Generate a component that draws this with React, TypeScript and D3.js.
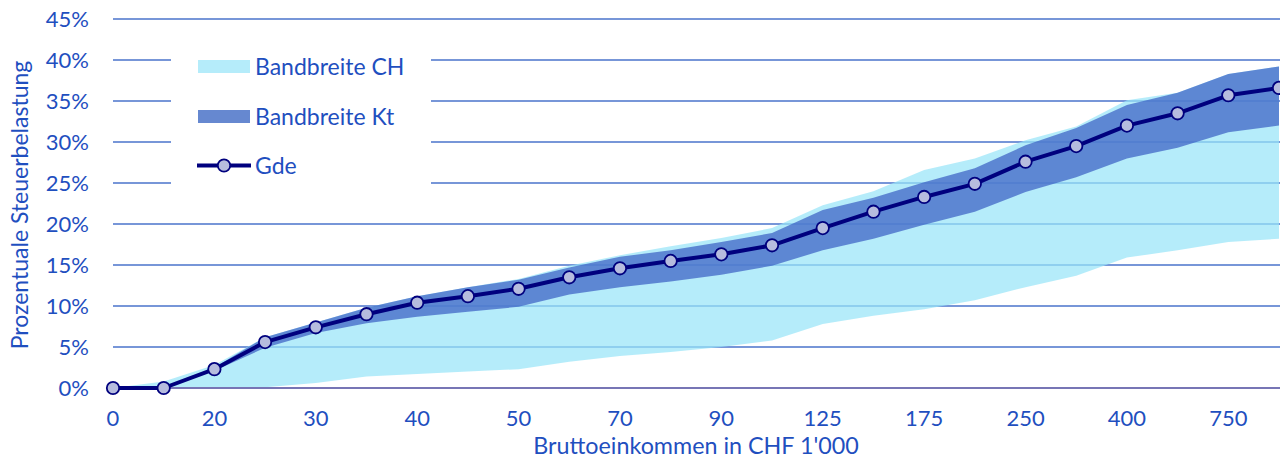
import { useEffect, useRef } from 'react';
import * as d3 from 'd3';

// Bruttoeinkommen in CHF 1'000
const incomes = ['0', '10', '20', '25', '30', '35', '40', '45', '50', '60', '70', '80', '90', '100', '125', '150', '175', '200', '250', '300', '400', '500', '750', '1000'];
const tickLabels = ['0', '20', '30', '40', '50', '70', '90', '125', '175', '250', '400', '750'];
const yTicks = [0, 5, 10, 15, 20, 25, 30, 35, 40, 45];

// Prozentuale Steuerbelastung in %
const gde = [0, 0, 2.3, 5.6, 7.4, 9.0, 10.4, 11.2, 12.1, 13.5, 14.6, 15.5, 16.3, 17.4, 19.5, 21.5, 23.3, 24.9, 27.6, 29.5, 32.0, 33.5, 35.7, 36.6];
const chLow = [0, 0, 0.1, 0.1, 0.6, 1.4, 1.7, 2.0, 2.3, 3.2, 3.9, 4.4, 5.0, 5.8, 7.8, 8.8, 9.6, 10.7, 12.3, 13.7, 15.9, 16.8, 17.8, 18.2];
const chHigh = [0, 0.8, 2.8, 6.2, 8.0, 9.8, 11.2, 12.3, 13.3, 14.9, 16.2, 17.3, 18.3, 19.5, 22.3, 24.0, 26.6, 28.0, 30.2, 31.9, 35.1, 36.0, 38.3, 39.2];
const ktLow = [0, 0, 2.1, 4.9, 6.7, 7.9, 8.7, 9.3, 9.9, 11.4, 12.3, 13.0, 13.8, 14.9, 16.8, 18.2, 19.9, 21.5, 23.9, 25.7, 28.0, 29.3, 31.2, 32.0];
const ktHigh = [0, 0, 2.5, 6.2, 8.0, 9.8, 11.2, 12.3, 13.2, 14.7, 16.0, 16.8, 17.8, 18.9, 21.7, 23.2, 25.1, 26.8, 29.6, 31.7, 34.5, 36.0, 38.3, 39.2];

const FONT = 'Lato, "Open Sans", sans-serif';
const TEXT = '#1f4fbf';

const App = () => {
  const svgRef = useRef<SVGSVGElement>(null);

  useEffect(() => {
    const width = 1280;
    const height = 462;

    const svg = d3.select(svgRef.current);
    svg.selectAll('*').remove();
    svg.attr('width', width).attr('height', height);

    const x = d3.scalePoint<string>().domain(incomes).range([113, 1279]);
    const y = d3.scaleLinear().domain([0, 45]).range([388, 19]);

    // gridlines
    svg.append('g')
      .selectAll('line')
      .data(yTicks.filter(d => d > 0))
      .join('line')
      .attr('x1', 113)
      .attr('x2', width)
      .attr('y1', d => y(d))
      .attr('y2', d => y(d))
      .attr('stroke', '#4a73cb')
      .attr('stroke-width', 1.6);

    // legend background cuts the gridlines
    svg.append('rect')
      .attr('x', 171).attr('y', 40).attr('width', 260).attr('height', 165)
      .attr('fill', '#fff');

    const band = (lo: number[], hi: number[]) => d3.area<string>()
      .x(d => x(d)!)
      .y0((d, i) => y(lo[i]))
      .y1((d, i) => y(hi[i]));

    svg.append('path')
      .datum(incomes)
      .attr('d', band(chLow, chHigh))
      .attr('fill', 'rgb(152,229,248)')
      .attr('fill-opacity', 0.72);

    svg.append('path')
      .datum(incomes)
      .attr('d', band(ktLow, ktHigh))
      .attr('fill', 'rgb(60,95,195)')
      .attr('fill-opacity', 0.72);

    // zero line
    svg.append('line')
      .attr('x1', 113).attr('x2', width)
      .attr('y1', y(0)).attr('y2', y(0))
      .attr('stroke', '#7775b5')
      .attr('stroke-width', 2);

    // Gde line
    const line = d3.line<string>()
      .x(d => x(d)!)
      .y((d, i) => y(gde[i]));

    svg.append('path')
      .datum(incomes)
      .attr('d', line)
      .attr('fill', 'none')
      .attr('stroke', '#00007e')
      .attr('stroke-width', 4)
      .attr('stroke-linejoin', 'round');

    svg.append('g')
      .selectAll('circle')
      .data(incomes)
      .join('circle')
      .attr('cx', d => x(d)!)
      .attr('cy', (d, i) => y(gde[i]))
      .attr('r', 6.2)
      .attr('fill', '#b6bcde')
      .attr('stroke', '#00007e')
      .attr('stroke-width', 1.8);

    // y tick labels
    svg.append('g')
      .selectAll('text')
      .data(yTicks)
      .join('text')
      .attr('x', 89)
      .attr('y', d => y(d))
      .attr('dy', '0.36em')
      .attr('text-anchor', 'end')
      .attr('font-family', FONT)
      .attr('font-size', 22)
      .attr('fill', TEXT)
      .text(d => `${d}%`);

    // x tick labels
    svg.append('g')
      .selectAll('text')
      .data(tickLabels)
      .join('text')
      .attr('x', d => x(d)!)
      .attr('y', 426)
      .attr('text-anchor', 'middle')
      .attr('font-family', FONT)
      .attr('font-size', 22)
      .attr('fill', TEXT)
      .text(d => d);

    svg.append('text')
      .attr('x', 696)
      .attr('y', 454)
      .attr('text-anchor', 'middle')
      .attr('font-family', FONT)
      .attr('font-size', 23.3)
      .attr('fill', TEXT)
      .text("Bruttoeinkommen in CHF 1'000");

    svg.append('text')
      .attr('transform', 'translate(28,205) rotate(-90)')
      .attr('text-anchor', 'middle')
      .attr('font-family', FONT)
      .attr('font-size', 23)
      .attr('fill', TEXT)
      .text('Prozentuale Steuerbelastung');

    // legend
    const lg = svg.append('g');
    lg.append('rect').attr('x', 198).attr('y', 60).attr('width', 52).attr('height', 13)
      .attr('fill', '#b5ecfa');
    lg.append('rect').attr('x', 198).attr('y', 110).attr('width', 52).attr('height', 13)
      .attr('fill', '#6688d0');
    lg.append('line').attr('x1', 197).attr('x2', 251).attr('y1', 165.5).attr('y2', 165.5)
      .attr('stroke', '#00007e').attr('stroke-width', 4);
    lg.append('circle').attr('cx', 224).attr('cy', 165.5).attr('r', 6.2)
      .attr('fill', '#b6bcde').attr('stroke', '#00007e').attr('stroke-width', 1.8);

    lg.selectAll('text')
      .data([['Bandbreite CH', 67], ['Bandbreite Kt', 117], ['Gde', 166]])
      .join('text')
      .attr('x', 255)
      .attr('y', d => d[1] as number)
      .attr('dy', '0.36em')
      .attr('font-family', FONT)
      .attr('font-size', 23)
      .attr('fill', TEXT)
      .text(d => d[0] as string);
  }, []);

  return <svg ref={svgRef} style={{ position: 'absolute', left: 0, top: 0 }}></svg>;
};

export default App;
